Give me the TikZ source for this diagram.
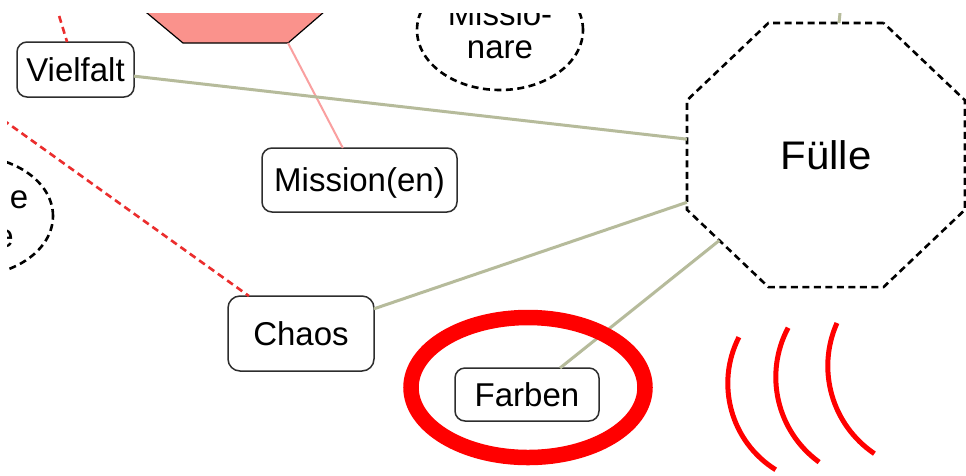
\documentclass[tikz,border=0pt]{standalone}
\usepackage{fontspec}
\setmainfont{Liberation Sans}
\usetikzlibrary{shapes.geometric}

\definecolor{linkolive}{RGB}{182,187,155}
\definecolor{hintred}{RGB}{235,45,45}
\definecolor{pinkfill}{RGB}{250,146,140}
\definecolor{pinklink}{RGB}{250,160,160}
\definecolor{boxgray}{RGB}{45,45,45}

\begin{document}
\begin{tikzpicture}[x=1pt,y=1pt,
  topic/.style={draw=boxgray, line width=1.5pt, rounded corners=10pt, fill=white,
    font=\fontsize{33}{40}\selectfont, inner sep=0pt, outer sep=0pt,
    text height=23.6pt, text depth=0pt},
  cloud/.style={ellipse, draw=black, line width=2.6pt, dash pattern=on 7pt off 4.5pt,
    minimum width=166pt, minimum height=120pt, inner sep=0pt, outer sep=0pt,
    font=\fontsize{33}{33}\selectfont, align=center},
  link/.style={draw=linkolive, line width=3pt},
  hint/.style={draw=hintred, line width=2.6pt, dash pattern=on 7pt off 4.5pt},
  softlink/.style={draw=pinklink, line width=2pt},
  ring/.style={draw=red, line width=15.5pt},
  wave/.style={draw=red, line width=5pt}]

\useasboundingbox (0,0) rectangle (966,-475);
\fill[white] (0,0) rectangle (966,-475);

\begin{scope}
\clip (7,-13) rectangle (966,-475);

% pink octagon (lower part) at the top
\filldraw[fill=pinkfill, draw=black, line width=1.2pt]
  (123,7) -- (183,-43) -- (288,-43) -- (346,7) -- cycle;
\coordinate (pinkcorner) at (288,-43);

% dashed clouds
\node[cloud] (missionare) at (500,-30) {Missio-\\nare};
\node[cloud] (leftcloud) at (-30,-216) {};
\node[font=\fontsize{33}{33}\selectfont, inner sep=0pt, anchor=base east] (lefte1) at (28.5,-208) {e};
\node[font=\fontsize{33}{33}\selectfont, inner sep=0pt, anchor=base east] (lefte2) at (14,-247) {e};

% topic boxes
\node[topic, minimum width=117pt, minimum height=55pt] (vielfalt) at (75.5,-69.5) {Vielfalt};
\node[topic, minimum width=195pt, minimum height=64pt] (mission) at (359.5,-180) {Mission(en)};
\node[topic, minimum width=146pt, minimum height=75pt, rounded corners=12pt] (chaos) at (301,-333.5) {Chaos};
\node[topic, minimum width=144pt, minimum height=53pt] (farben) at (527,-394.5) {Farben};

% central octagon
\begin{scope}[shift={(826,-155)}, yscale=0.95]
\node[regular polygon, regular polygon sides=8, minimum size=300.9pt,
  draw=black, line width=2.6pt, dash pattern=on 7pt off 4.5pt,
  inner sep=0pt, outer sep=0pt, transform shape,
  font=\fontsize{42}{50}\selectfont, text height=30pt, text depth=0pt] (fulle) at (0,0) {Fülle};
\end{scope}

% off-picture ends of connectors
\coordinate (northlink) at (861,200);
\coordinate (hintsrcA) at (39,50);
\coordinate (hintsrcB) at (-100,-46);

% connectors
\draw[softlink] (pinkcorner) -- (mission);
\draw[link] (vielfalt) -- (fulle);
\draw[link] (chaos) -- (fulle);
\draw[link] (farben) -- (fulle);
\draw[link] (fulle) -- (northlink);
\draw[hint] (hintsrcA) -- (vielfalt);
\draw[hint] (hintsrcB) -- (chaos);

% red highlight ring
\draw[ring] (528,-387.5) ellipse [x radius=117pt, y radius=70pt];

% red wave strokes
\coordinate (waveA) at (829.6,-383.4);
\coordinate (waveB) at (880.9,-377.1);
\coordinate (waveC) at (933.5,-366);
\draw[wave] (waveA) ++(153:101.8pt) arc[start angle=153, end angle=238, radius=101.8pt];
\draw[wave] (waveB) ++(152:105.1pt) arc[start angle=152, end angle=234, radius=105.1pt];
\draw[wave] (waveC) ++(156:105.7pt) arc[start angle=156, end angle=236, radius=105.7pt];
\end{scope}

\end{tikzpicture}
\end{document}
